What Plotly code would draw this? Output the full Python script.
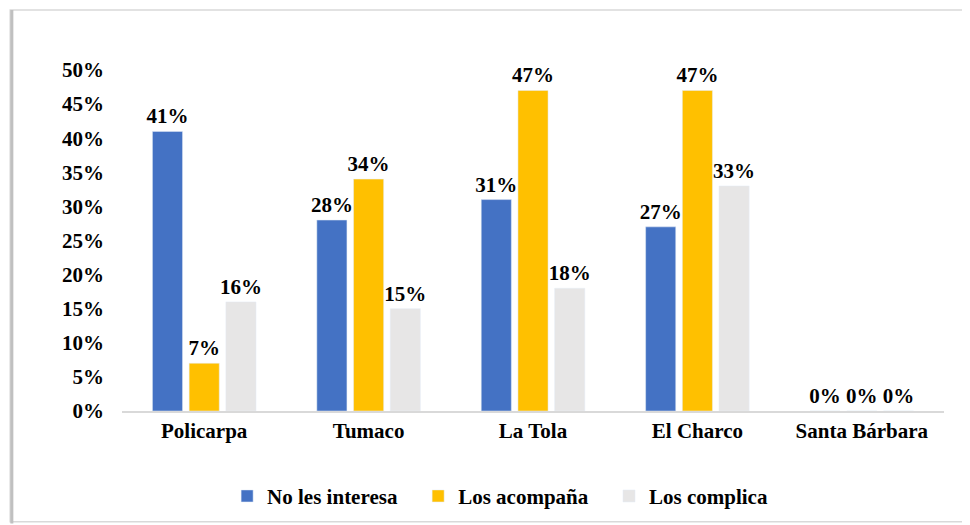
import plotly.graph_objects as go

categories = ['Policarpa', 'Tumaco', 'La Tola', 'El Charco', 'Santa Bárbara']
no_les_interesa = [0.41, 0.28, 0.31, 0.27, 0.0]
los_acompana = [0.07, 0.34, 0.47, 0.47, 0.0]
los_complica = [0.16, 0.15, 0.18, 0.33, 0.0]
y_ticks = [0, 0.05, 0.10, 0.15, 0.20, 0.25, 0.30, 0.35, 0.40, 0.45, 0.50]

font = dict(family='Liberation Serif, Times New Roman, serif', size=21, color='black', weight='bold')

fig = go.Figure()
for name, vals, color in [
    ('No les interesa\u00a0\u00a0\u00a0', no_les_interesa, '#4472C4'),
    ('Los acompaña\u00a0\u00a0\u00a0', los_acompana, '#FFC000'),
    ('Los complica', los_complica, '#E7E6E6'),
]:
    fig.add_trace(go.Bar(
        x=categories, y=vals, name=name, marker_color=color,
        text=[f'{v*100:.0f}%' for v in vals], textposition='outside',
        textfont=font, cliponaxis=False, constraintext='none',
    ))

# the page body has an 8px margin, so the figure is drawn 8px smaller
fig.update_layout(
    width=962, height=517,
    margin=dict(l=114, r=26, t=62, b=114, autoexpand=False),
    paper_bgcolor='white', plot_bgcolor='white',
    font=font,
    barmode='group', bargap=0.33, bargroupgap=0.18,
    showlegend=True,
    legend=dict(orientation='h', x=0.46, xanchor='center', y=-0.19, yanchor='top',
                font=font, itemwidth=30, traceorder='normal'),
    xaxis=dict(showline=True, linecolor='#d9d9d9', linewidth=2, ticks='',
               tickfont=font, showgrid=False, automargin=False),
    yaxis=dict(range=[0, 0.5], tickvals=y_ticks, tickformat='.0%', showgrid=False,
               zeroline=False, showline=False, tickfont=font, ticklabelstandoff=17,
               automargin=False),
    shapes=[
        dict(type='rect', xref='paper', yref='paper', x0=-0.136, x1=1.028, y0=-0.325, y1=1.176,
             line=dict(color='#d9d9d9', width=1.5)),
        dict(type='line', xref='paper', yref='paper', x0=-0.134, x1=-0.134, y0=-0.33, y1=1.176,
             line=dict(color='#c0c0c0', width=3)),
    ],
)

fig.write_html('out.html')
